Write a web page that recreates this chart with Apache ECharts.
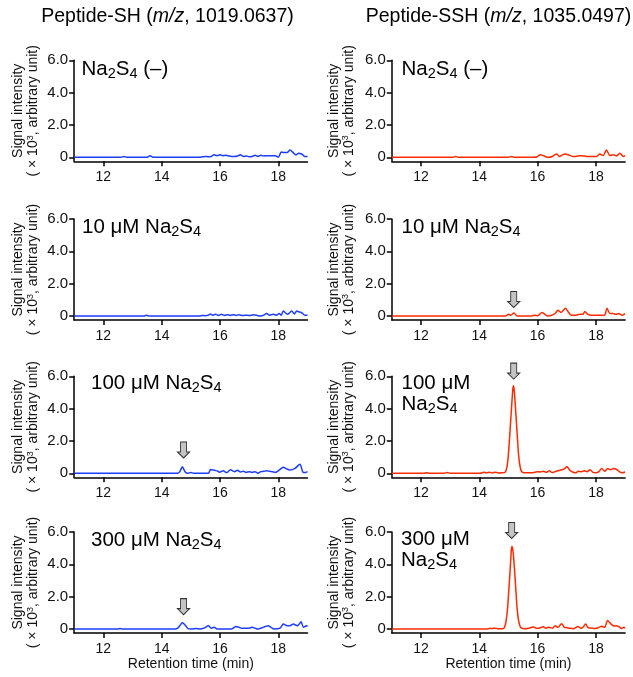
<!DOCTYPE html>
<html><head><meta charset="utf-8">
<script src="https://cdn.jsdelivr.net/npm/echarts@6/dist/echarts.min.js"></script>
<style>html,body{margin:0;padding:0;background:#fff}#c{width:633px;height:677px}</style>
</head><body><div id="c"></div>
<script>
// ---------- data (retention time in min, signal in x10^3) ----------
const xTicks = [12, 14, 16, 18];
const yTicks = [0, 2, 4, 6];
const xMin = 11, xMax = 19, yMin = -0.25, yMax = 6;

const shNone = [[11,0],[12.6,0],[12.7,0.05],[12.8,0],[13.5,0],[13.6,0.1],[13.7,0],[15.3,0],[15.4,0.03],[15.5,0.05],[15.6,0.03],[15.7,0.05],[15.8,0.15],[15.9,0.1],[16.0,0.15],[16.1,0.1],[16.2,0.12],[16.3,0.08],[16.4,0.05],[16.5,0.05],[16.6,0.08],[16.7,0.15],[16.8,0.05],[16.9,0.08],[17.0,0.03],[17.1,0.05],[17.2,0.12],[17.3,0.05],[17.4,0.12],[17.5,0.08],[17.6,0.1],[17.7,0.1],[17.8,0.1],[17.9,0.1],[18.0,0.0],[18.1,0.32],[18.2,0.3],[18.3,0.3],[18.4,0.45],[18.5,0.3],[18.6,0.15],[18.7,0.25],[18.8,0.2],[18.9,0.05],[19.0,0.05]];
const sh10 = [[11,0],[13.4,0],[13.47,0.05],[13.55,0],[15.3,0],[15.4,0.03],[15.5,0.02],[15.6,0.05],[15.67,0.12],[15.75,0.05],[15.85,0.1],[15.95,0.03],[16.05,0.1],[16.15,0.03],[16.25,0.08],[16.35,0.03],[16.45,0.08],[16.55,0.03],[16.65,0.07],[16.8,0.03],[16.9,0.05],[17.0,0.03],[17.15,0.07],[17.3,0.02],[17.4,0.0],[17.5,0.05],[17.6,0.15],[17.7,0.05],[17.83,0.1],[17.93,0.05],[18.03,0.15],[18.1,0.05],[18.17,0.3],[18.31,0.1],[18.46,0.3],[18.55,0.12],[18.63,0.3],[18.72,0.25],[18.8,0.2],[18.91,0.05],[19.0,0.05]];
const sh100 = [[11,0],[14.55,0],[14.62,0.1],[14.71,0.4],[14.8,0.1],[14.9,0.0],[15.0,0.05],[15.1,0.0],[15.6,0.0],[15.68,0.24],[15.83,0.17],[15.9,0.15],[15.98,0.07],[16.11,0.15],[16.23,0.04],[16.36,0.22],[16.49,0.1],[16.6,0.18],[16.7,0.08],[16.8,0.12],[16.9,0.05],[17.0,0.1],[17.1,0.05],[17.2,0.1],[17.3,0.0],[17.4,0.1],[17.5,0.12],[17.6,0.15],[17.7,0.12],[17.8,0.1],[17.9,0.05],[18.03,0.2],[18.17,0.37],[18.28,0.27],[18.4,0.2],[18.57,0.3],[18.74,0.55],[18.85,0.05],[18.92,0.04],[19.0,0.1]];
const sh300 = [[11,0],[12.5,0],[12.57,0.03],[12.65,0],[14.45,0],[14.55,0.05],[14.62,0.2],[14.71,0.38],[14.8,0.25],[14.9,0.02],[15.0,0],[15.2,0.03],[15.3,0.0],[15.45,0.05],[15.6,0.2],[15.7,0.05],[15.8,0.1],[15.9,0.0],[16.4,0.0],[16.55,0.15],[16.65,0.1],[16.75,0.05],[16.9,0.05],[17.0,0.05],[17.1,0.1],[17.2,0.05],[17.3,0.0],[17.45,0.08],[17.55,0.15],[17.65,0.2],[17.75,0.1],[17.85,0.0],[18.06,0.05],[18.17,0.3],[18.31,0.2],[18.42,0.22],[18.51,0.3],[18.66,0.2],[18.78,0.45],[18.86,0.1],[18.97,0.2],[19.0,0.15]];

const sshNone = [[11,0],[13.1,0],[13.19,0.05],[13.28,0],[15.0,0],[15.1,0.05],[15.2,0],[15.9,0],[16.0,0.05],[16.08,0.15],[16.2,0.1],[16.3,0.02],[16.4,0.0],[16.5,0.05],[16.65,0.2],[16.75,0.05],[16.85,0.15],[16.95,0.2],[17.05,0.15],[17.2,0.05],[17.3,0.05],[17.45,0.1],[17.6,0.08],[17.7,0.05],[17.85,0.05],[18.02,0.05],[18.13,0.2],[18.25,0.1],[18.36,0.45],[18.48,0.1],[18.59,0.15],[18.71,0.08],[18.82,0.25],[18.94,0.05],[19.0,0.1]];
const ssh10 = [[11,0],[14.9,0],[15.0,0.1],[15.08,0.05],[15.19,0.18],[15.3,0.0],[15.8,0.0],[15.9,0.05],[16.0,0.02],[16.15,0.22],[16.25,0.1],[16.35,0.0],[16.5,0.05],[16.6,0.15],[16.7,0.36],[16.8,0.22],[16.96,0.48],[17.05,0.25],[17.15,0.05],[17.3,0.05],[17.45,0.1],[17.55,0.1],[17.62,0.27],[17.72,0.1],[17.85,0.05],[18.0,0.05],[18.2,0.05],[18.3,0.05],[18.38,0.47],[18.48,0.15],[18.58,0.15],[18.68,0.1],[18.78,0.15],[18.9,0.05],[19.0,0.15]];
const ssh100 = [[11,0],[12.1,0],[12.2,0.03],[12.3,0],[12.8,0],[12.9,0.05],[13.0,0],[14.05,0],[14.15,0.06],[14.25,0.03],[14.35,0.06],[14.45,0.02],[14.55,0.07],[14.65,0.02],[14.8,0.03],[14.88,0.05],[14.95,0.4],[15.0,1.2],[15.05,2.5],[15.1,3.9],[15.15,5.2],[15.17,5.42],[15.2,5.1],[15.25,3.8],[15.3,2.4],[15.35,1.1],[15.4,0.4],[15.45,0.12],[15.5,0.05],[15.6,0.03],[15.8,0.03],[15.9,0.06],[16.0,0.1],[16.1,0.08],[16.2,0.12],[16.3,0.06],[16.4,0.15],[16.5,0.04],[16.6,0.1],[16.7,0.15],[16.8,0.2],[16.9,0.25],[17.0,0.42],[17.1,0.2],[17.2,0.08],[17.3,0.03],[17.4,0.12],[17.5,0.1],[17.6,0.15],[17.7,0.1],[17.8,0.22],[17.9,0.05],[18.0,0.03],[18.1,0.1],[18.2,0.3],[18.3,0.12],[18.4,0.3],[18.5,0.22],[18.6,0.3],[18.7,0.25],[18.8,0.1],[18.9,0.03],[19.0,0.08]];
const ssh300 = [[11,0],[14.3,0],[14.35,0.04],[14.45,0.03],[14.55,0.05],[14.65,0.02],[14.8,0.02],[14.86,0.08],[14.92,0.5],[14.97,1.3],[15.02,2.6],[15.07,4.0],[15.1,4.9],[15.12,5.1],[15.15,4.9],[15.2,3.9],[15.25,2.5],[15.3,1.2],[15.35,0.5],[15.4,0.15],[15.45,0.05],[15.55,0.02],[15.7,0.05],[15.8,0.1],[15.87,0.12],[15.95,0.04],[16.05,0.05],[16.19,0.14],[16.28,0.05],[16.37,0.1],[16.45,0.08],[16.52,0.05],[16.6,0.2],[16.7,0.1],[16.82,0.33],[16.92,0.1],[17.0,0.08],[17.1,0.05],[17.22,0.02],[17.39,0.15],[17.48,0.05],[17.55,0.1],[17.65,0.3],[17.72,0.1],[17.8,0.06],[17.95,0.03],[18.08,0.08],[18.2,0.16],[18.3,0.1],[18.4,0.52],[18.54,0.27],[18.62,0.18],[18.71,0.2],[18.8,0.12],[18.88,0.03],[18.96,0.1],[19.0,0.05]];

const seriesSH = [shNone, sh10, sh100, sh300];
const seriesSSH = [sshNone, ssh10, ssh100, ssh300];
// arrow marker positions (time, signal) - some sit slightly above the 6.0 axis top
const arrowsSH = [null, null, [14.75, 1.44], [14.75, 1.38]];
const arrowsSSH = [null, [15.18, 1.02], [15.18, 6.32], [15.11, 6.09]];

const columnTitles = ['Peptide-SH ({it|m/z}, 1019.0637)', 'Peptide-SSH ({it|m/z}, 1035.0497)'];
const rowLabelsSH = ['Na{sub|2}S{sub|4} (–)', '10 μM Na{sub|2}S{sub|4}', '100 μM Na{sub|2}S{sub|4}', '300 μM Na{sub|2}S{sub|4}'];
const rowLabelsSSH = ['Na{sub|2}S{sub|4} (–)', '10 μM Na{sub|2}S{sub|4}', '100 μM\nNa{sub|2}S{sub|4}', '300 μM\nNa{sub|2}S{sub|4}'];
const xName = 'Retention time (min)';
const yName = 'Signal intensity\n( × 10{sup|3}, arbitrary unit)';

// ---------- layout / style ----------
const FONT = "'Liberation Sans', Arial, Helvetica, sans-serif";
const TXT = '#111';
const colLeft = [74.2, 391.8];
const colWidth = 233.3;
const rowTop = [60.3, 219, 376.3, 532];
const rowH = 101;
const pxPerUnit = rowH / (yMax - yMin);
const nameGaps = [33.5, 35.5];
const lineColors = ['#1c3cff', '#ff2a00'];
const labelPos = [
  [[81.5, 69.5], [82, 227.2], [91, 383.7], [91, 540]],
  [[401.5, 69.5], [401.5, 227], [401.5, 394], [401, 550]]
];
const titlePos = [[167.5, 16.5], [498.5, 16.5]];
const ARROW = 'path://M3,0L9,0L9,10L12,10L6,16L0,10L3,10Z';

const grids = [], xAxes = [], yAxes = [], series = [], graphics = [];
const cols = [
  {data: seriesSH, arrows: arrowsSH, labels: rowLabelsSH},
  {data: seriesSSH, arrows: arrowsSSH, labels: rowLabelsSSH}
];

cols.forEach((col, c) => {
  col.data.forEach((d, r) => {
    const idx = grids.length;
    grids.push({left: colLeft[c], top: rowTop[r], width: colWidth, height: rowH, containLabel: false, outerBoundsMode: 'none'});
    xAxes.push({
      type: 'value', gridIndex: idx, min: xMin, max: xMax,
      axisLine: {show: true, onZero: false, lineStyle: {color: '#000', width: 1.5}},
      axisTick: {show: true, length: 5, customValues: xTicks, lineStyle: {color: '#000', width: 1.5}},
      axisLabel: {customValues: xTicks, fontSize: 14, margin: 9, color: TXT, fontFamily: FONT},
      splitLine: {show: false},
      name: r === 3 ? xName : '', nameLocation: 'middle', nameGap: 24,
      nameTextStyle: {fontSize: 14, color: TXT, fontFamily: FONT}
    });
    yAxes.push({
      type: 'value', gridIndex: idx, min: yMin, max: yMax,
      axisLine: {show: true, onZero: false, lineStyle: {color: '#000', width: 1.5}},
      axisTick: {show: true, length: 5, customValues: yTicks, lineStyle: {color: '#000', width: 1.5}},
      axisLabel: {customValues: yTicks, fontSize: 15, margin: 6, color: TXT, fontFamily: FONT,
        formatter: v => (v === 0 ? '0' : v.toFixed(1))},
      splitLine: {show: false},
      name: yName, nameLocation: 'middle', nameRotate: 90, nameGap: nameGaps[c],
      nameTextStyle: {fontSize: 14, lineHeight: 15, color: TXT, fontFamily: FONT,
        rich: {sup: {fontSize: 9, verticalAlign: 'top', color: TXT, fontFamily: FONT}}}
    });
    const s = {
      type: 'line', xAxisIndex: idx, yAxisIndex: idx, data: d,
      showSymbol: false, smooth: 0.25, clip: false, animation: false, silent: true,
      lineStyle: {color: lineColors[c], width: 1.5}
    };
    const a = col.arrows[r];
    if (a) {
      // markers outside the axis range are dropped, so clamp to the top and lift by the remainder
      const yIn = Math.min(a[1], yMax - 0.001);
      const lift = (a[1] - yIn) * pxPerUnit;
      s.markPoint = {
        silent: true, animation: false,
        symbol: ARROW, symbolSize: [12, 16], symbolOffset: [0, -lift],
        itemStyle: {color: '#c4c4c4', borderColor: '#333', borderWidth: 1},
        label: {show: false},
        data: [{coord: [a[0], yIn]}]
      };
    }
    series.push(s);
    const p = labelPos[c][r];
    graphics.push({
      type: 'text', x: p[0], y: p[1], silent: true,
      style: {
        text: col.labels[r], fill: '#000', fontSize: 20.5, fontFamily: FONT, lineHeight: 21,
        align: 'left', verticalAlign: 'middle', textAlign: 'left', textVerticalAlign: 'middle',
        rich: {sub: {fontSize: 14.5, height: 12, verticalAlign: 'bottom', fontFamily: FONT, fill: '#000'}}
      }
    });
  });
  graphics.push({
    type: 'text', x: titlePos[c][0], y: titlePos[c][1], silent: true,
    style: {
      text: columnTitles[c], fill: '#000', fontSize: 19.5, fontFamily: FONT,
      align: 'center', verticalAlign: 'middle', textAlign: 'center', textVerticalAlign: 'middle',
      rich: {it: {fontSize: 19.5, fontStyle: 'italic', fontFamily: FONT, fill: '#000'}}
    }
  });
});

const chart = echarts.init(document.getElementById('c'), null, {renderer: 'canvas'});
chart.setOption({
  animation: false,
  backgroundColor: '#fff',
  textStyle: {fontFamily: FONT},
  grid: grids, xAxis: xAxes, yAxis: yAxes, series: series,
  graphic: graphics
});
</script></body></html>
